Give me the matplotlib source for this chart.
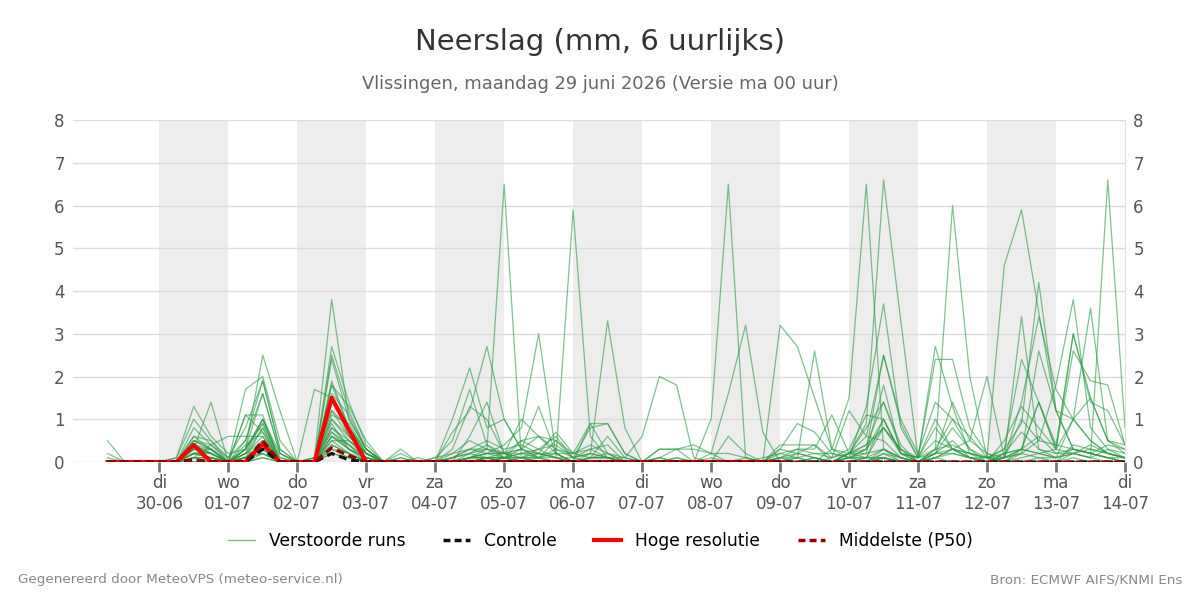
import matplotlib
matplotlib.use("Agg")
import matplotlib.pyplot as plt
from matplotlib.lines import Line2D
import pandas as pd

# 6-hourly steps, first value 29-06 06:00, last 14-07 00:00 (60 steps)
times = pd.date_range("2026-06-29 06:00", periods=60, freq="6h")

# perturbed members (mm per 6 h)
members = [
    [0.5,0,0,0,0.1,1.3,0.6,0.2,0.3,2.5, 1.2,0,0.1,1.2,0.6,0.2,0,0.1,0,0, 0.1,0.3,0.3,6.5,0.1,0.2,0.1,0,0.1,0.2,
     0,0,0,0.1,0,0,0.6,0.2,0,0.1, 0.2,0.1,0,0.2,0.8,1.4,0.3,0,0.2,0.3, 0.1,0.1,4.6,5.9,3.5,1.2,1.0,0.5,0.2,0.1],
    [0.2,0,0,0,0,0.5,0.3,0,0.5,1.6, 0.2,0,0.1,3.8,1.0,0.3,0,0,0,0.1, 0.5,1.7,0.4,0.1,0.5,0.3,0.1,0,0.9,0.9,
     0.2,0,0.1,0.3,0.4,0.2,0,0.1,0,0.3, 0.9,0.7,0.2,0.1,1.3,3.7,0.8,0.1,0.3,1.0, 0.6,0.1,0.3,2.4,1.4,0.4,3.0,1.5,0.5,0.3],
    [0,0,0,0,0,0.8,0.4,0,0.3,1.0, 0,0,0,2.7,1.4,0.4,0,0.3,0,0, 1.0,2.2,0.8,1.0,0.3,0.6,0.2,0,0.2,0.1,
     0.1,0,0,0,0,0,0,0,0,0.4, 0.4,0.4,0,0.2,0.6,2.5,1.0,0.2,1.4,1.0, 0.3,0,0.5,1.3,0.8,0.3,2.6,1.9,1.8,0.4],
    [0,0,0,0,0,0.6,0.5,0.1,0.8,1.9, 0.3,0,0,2.5,1.2,0.3,0,0,0,0, 0.3,1.3,1.0,0.2,0.2,0.3,0.6,0.1,0.2,0.1,
     0,0,0,0,0,0,0,0,0.1,0.2, 0.3,0.2,0.1,0.2,0.9,6.6,3.3,0.1,0.5,0.3, 0.2,0.1,0,0.3,1.4,0.3,1.0,3.6,0.5,0.4],
    [0,0,0,0,0,0.3,0.2,0,0.2,0.8, 0,0,0,1.9,0.8,0.2,0,0,0.1,0, 0,0.6,1.4,0.2,0,0.2,0.1,0.1,0,0,
     0,0,0,0,0,0.1,0,0,0,0.2, 0.1,0,0.3,1.5,6.5,0.3,0.1,0,0.2,0.2, 0.1,0,0.2,0.3,0.6,0.2,0.2,0.3,0.2,0.1],
    [0,0,0,0,0,0.4,0.3,0,1.7,2.0, 0.5,0,1.7,1.5,0.6,0.2,0,0,0,0, 0.2,0.5,0.3,0.1,0.3,0.2,0.1,5.9,0.6,0.1,
     0,0,0.3,0.3,0,0,0,0,0,0, 0,0.1,0,0.2,0.3,0.8,0.2,0.1,2.7,1.3, 0.2,0,0.2,0.7,0.3,0.1,0.3,0.2,0.1,0],
    [0,0,0,0,0.1,1.0,0.5,0,0.3,1.0, 0.2,0,0,1.8,1.3,0.5,0,0,0,0, 0.1,0.3,0.2,0.4,0.8,3.0,0.2,0,0.1,0.1,
     0,0,0,0,0,1.0,6.5,0.1,0,0, 0,0,0,0.1,0.2,1.8,0.2,0,0.1,0.2, 0.1,0,0.1,0.3,0.2,0.1,1.0,1.5,0.5,0.2],
    [0,0,0,0,0,0.5,0.4,0.1,0.5,1.9, 0.3,0,0,1.2,0.8,0.3,0,0.2,0,0, 0.7,1.2,2.7,1.0,0.3,0.1,0.3,0.1,0.2,3.3,
     0.8,0,0,0,0,0,0,0,0,0, 0,0,0.1,0.3,1.1,1.0,0.2,0.1,1.0,0.3, 0.1,0,0.1,0.2,0.5,0.4,0.3,0.2,0.4,0.3],
    [0,0,0,0,0,0.3,0.3,0,0.2,0.6, 0,0,0,1.0,0.5,0.2,0,0,0,0.1, 0.2,0.3,0.5,0.3,0.4,0.2,0.2,0.2,0.4,0.2,
     0.1,0.6,2.0,1.8,0.1,0,0,0,0,0, 0.2,0.1,0,0.2,0.4,0.8,0.3,0.1,2.4,2.4, 0.8,0.2,0,0.2,0.1,0,0.4,0.3,0.2,0.1],
    [0,0,0,0,0,0.2,0.1,0,0.1,0.5, 0,0,0,0.8,0.4,0.1,0,0,0,0, 0,0.1,0.2,0.2,0.5,0.6,0.3,0.2,0.9,0.2,
     0,0,0.1,0,0,0.2,1.6,3.2,0.7,0, 0.1,0.2,0.2,0.1,0.3,1.0,0.2,0,0.3,6.0, 2.0,0.1,0,0.1,0.2,0.3,0.2,0.4,0.2,0.1],
    [0,0,0,0,0,0.1,0,0,0.1,0.4, 0,0,0.1,0.7,0.3,0.1,0,0,0,0, 0.1,0.2,0.3,0.2,0.3,0.1,0.5,0.1,0.3,0.1,
     0,0,0.3,0.3,0.3,0.2,0.2,0.1,0,3.2, 2.7,1.5,0.3,0.2,0.1,0.8,0.3,0,0.2,1.4, 0.5,0.2,0.1,0.2,2.6,1.2,0.3,0.2,0.1,0],
    [0,0,0,0,0,0.2,0.2,0,0.2,0.3, 0,0,0,0.6,0.3,0,0,0,0,0, 0,0.1,0.1,0.1,0.1,0.3,0.4,0.1,0.8,0.9,
     0.2,0,0,0,0,0,0,0,0,0.1, 0.1,2.6,0.3,0.1,0.3,2.5,0.9,0.1,0.8,0.3, 0.1,0,0.1,1.0,0.5,1.8,3.8,0.8,0.3,0.2],
    [0,0,0,0,0,0.2,0.3,0,0.3,0.9, 0,0,0,0.5,0.5,0.2,0,0,0,0, 0.1,0.2,0.4,0.2,0.3,1.3,0.2,0,0,0,
     0,0,0.1,0,0,0,0,0,0,0.1, 0.3,0.3,1.1,0.2,0.4,1.4,0.4,0,0.1,0.3, 0.2,0.1,0.3,0.9,4.2,1.2,0.3,0.2,0.1,0.1],
    [0,0,0,0,0,0.1,0.1,0,0.1,0.2, 0,0,0,0.4,0.2,0,0,0,0,0, 0,0.1,0.2,0.2,1.0,0.6,0.5,0.2,0.3,0.4,
     0,0,0,0,0,0,0,0,0,0.3, 0.2,0.4,0.1,1.2,0.6,0.5,0.1,0,0.2,0.5, 0.1,0,0.1,3.4,0.3,0.2,0.3,0.2,0.1,0],
    [0,0,0,0,0,0,0,0,0.1,0.3, 0,0,0,0.3,0.1,0,0,0,0,0, 0,0,0.1,0.1,0.2,0.2,0.7,0.2,0.1,0.6,
     0.1,0,0,0.1,0,0,0,0,0,0, 0.1,0,0,0.1,0.1,1.0,0.2,0.1,0.2,0.8, 0.3,0.1,0.1,1.4,3.4,1.7,1.0,0.5,0.2,0.1],
    [0,0,0,0,0,0,0,0,0,0.2, 0,0,0,0.3,0.2,0,0,0,0,0, 0,0,0,0.1,0.1,0.1,0.2,0,0.1,0.1,
     0,0,0,0,0,0,0,0,0,0.1, 0,0.1,0,0.2,0.2,0.3,0.1,0,0.1,0.3, 0.5,2.0,0.1,0.3,0.2,0.1,0.2,0.1,6.6,0.8],
    [0,0,0,0,0,0.3,1.4,0,0,0.1, 0,0,0,0.2,0.1,0,0,0,0,0, 0,0,0.1,0.2,0.1,0.1,0.1,0,0.1,0.1,
     0,0,0,0,0,0,0,0,0,0, 0,0,0,0.1,0.1,0.3,0.1,0,0.3,0.4, 0.2,0.1,0.2,0.3,1.4,0.3,3.0,1.4,1.2,0.4],
    [0,0,0,0,0,0.6,0.3,0,0.3,1.6, 0.2,0,0,1.8,0.8,0.2,0,0,0,0, 0,0.2,0.1,0.1,0.2,0.1,0,0,0,0,
     0,0,0,0,0,0,0,0,0,0, 0,0,0,0,0.1,0.1,0,0,0,0, 0,0,0,0,0.1,0.1,0.2,0.1,0,0],
    [0,0,0,0,0,0.4,0.2,0,0.2,1.0, 0.1,0,0,2.4,1.0,0.3,0,0.1,0,0, 0,0.1,0.3,0.2,0.1,0,0,0,0,0,
     0,0,0,0,0,0,0,0,0,0, 0,0,0,0.1,0,0.2,0.1,0,0.1,0, 0,0,0,0,0,0,0.2,0.1,0.3,0.1],
    [0,0,0,0,0,0.3,0.2,0,0.1,0.8, 0,0,0,1.0,0.6,0.2,0,0,0,0, 0,0.1,0.2,0.1,0,0.1,0,0,0,0,
     0,0,0,0,0,0,0,0,0,0, 0,0,0,0,0.1,0.1,0,0,0,0, 0,0,0,0,0,0,0,0,0,0],
    [0,0,0,0,0,0.2,0.1,0,1.1,1.1, 0,0,0,0.8,0.5,0.1,0,0,0,0, 0,0,0.1,0,0.1,0,0,0,0,0,
     0,0,0,0,0,0,0,0,0,0, 0,0,0,0,0,0.3,0,0,0,0, 0,0,0,0,0,0,0,0,0,0],
    [0,0,0,0,0,0.1,0.4,0.6,0.6,0.6, 0,0,0,0.7,0.4,0,0,0,0,0, 0,0,0,0.1,0,0,0,0,0,0,
     0,0,0,0,0,0,0,0,0,0, 0,0,0,0,0,0.1,0,0,0,0, 0,0,0,0,0,0,0,0,0,0],
    [0.1,0,0,0,0,0.5,0.3,0,0.2,0.5, 0,0,0,0.6,0.3,0.1,0,0,0,0, 0,0.1,0.1,0,0,0,0,0,0,0,
     0,0,0,0,0,0,0,0,0,0, 0,0,0,0,0,0.1,0,0,0,0, 0,0,0,0,0,0,0,0,0,0],
    [0,0,0,0,0,0.2,0.1,0,0.1,0.3, 0,0,0,0.5,0.2,0,0,0,0,0, 0,0,0.1,0,0,0,0,0,0,0,
     0,0,0,0,0,0,0,0,0,0, 0,0,0,0,0,0,0,0,0,0, 0,0,0,0,0,0,0.1,0,0,0],
    [0,0,0,0,0,0.1,0.1,0,0.1,0.2, 0,0,0,0.4,0.2,0,0,0,0,0, 0,0,0,0,0,0,0,0,0,0,
     0,0,0,0,0,0,0,0,0,0, 0,0,0,0,0,0,0,0,0,0, 0,0,0,0,0,0,0,0,0,0],
    [0,0,0,0,0,0.2,0.1,0,0.3,0.9, 0.1,0,0,1.1,0.9,0.2,0,0,0,0, 0,0.1,0.1,0,0,0,0,0,0,0,
     0,0,0,0,0,0,0,0,0,0, 0,0,0,0,0,0.1,0,0,0,0, 0,0,0,0,0,0,0,0,0,0],
    [0,0,0,0,0,0.1,0.1,0,0.1,0.4, 0,0,0,0.9,0.3,0.1,0,0,0,0, 0,0,0,0.1,0,0,0,0,0,0,
     0,0,0,0,0,0,0,0,0,0, 0,0,0,0,0,0,0,0,0,0, 0,0,0,0,0,0,0,0,0,0],
    [0,0,0,0,0,0,0,0,0,0.1, 0,0,0,0.2,0.1,0,0,0,0,0, 0,0,0,0,0,0,0,0,0,0,
     0,0,0,0,0,0,0,0,0,0, 0,0,0,0,0,0,0,0,0,0, 0,0,0,0,0,0,0,0,0,0],
    [0,0,0,0,0,0.4,0.2,0,0.4,0.7, 0,0,0,1.6,1.1,0.3,0,0,0,0, 0,0,0.1,0,0,0,0,0,0,0,
     0,0,0,0,0,0,0,0,0,0, 0,0,0,0,0,0.2,0,0,0,0, 0,0,0,0,0,0,0,0,0,0],
    [0,0,0,0,0,0.3,0.2,0,1.1,0.7, 0,0,0,0.6,0.4,0.1,0,0,0,0, 0,0,0,0,0,0,0,0,0,0,
     0,0,0,0,0,0,0,0,0,0, 0,0,0,0,0,0,0,0,0,0, 0,0,0,0,0,0,0,0,0,0],
]

control = [0,0,0,0,0,0.05,0,0,0,0.3, 0,0,0,0.2,0.05,0,0,0,0,0, 0,0,0,0,0,0,0,0,0,0,
           0,0,0,0,0,0,0,0,0,0, 0,0,0,0,0,0,0,0,0,0, 0,0,0,0,0,0,0,0,0,0]
hres = [0,0,0,0,0,0.4,0,0,0,0.42, 0,0,0,1.5,0.75,0,0,0,0,0, 0,0,0,0,0,0,0,0,0,0,
        0,0,0,0,0,0,0,0,0,0]
median = [0,0,0,0,0,0.05,0,0,0,0.5, 0,0,0,0.33,0.15,0,0,0,0,0, 0,0,0,0,0,0,0,0,0,0,
          0,0,0,0,0,0,0,0,0,0, 0,0,0,0,0,0,0,0,0,0, 0,0,0,0,0,0,0,0,0,0]

day_names = ["di", "wo", "do", "vr", "za", "zo", "ma", "di", "wo", "do", "vr", "za", "zo", "ma", "di"]
days = pd.date_range("2026-06-30", "2026-07-14", freq="D")

fig = plt.figure(figsize=(12, 6), dpi=100)
ax = fig.add_axes([73 / 1200, 1 - 462 / 600, (1125 - 73) / 1200, 342 / 600])

# alternating day shading
for k in range(0, len(days) - 1, 2):
    ax.axvspan(days[k], days[k + 1], color="#ededed", lw=0, zorder=0)

for run in members:
    ax.plot(times, run, color="#2b9a44", alpha=0.6, lw=0.9, zorder=2)
ax.plot(times[:len(hres)], hres, color="#ff0000", lw=3, zorder=4)
ax.plot(times, control, color="#111111", lw=2.3, ls=(0, (2.5, 1.5)), zorder=5)
ax.plot(times, median, color="#990000", lw=2.3, ls=(0, (2.5, 1.5)), zorder=6)

ax.set_xlim(pd.Timestamp("2026-06-28 18:00"), pd.Timestamp("2026-07-14 00:00"))
ax.set_ylim(0, 8)
ax.set_yticks(range(0, 9))
ax.grid(axis="y", color="#dddddd", lw=1, zorder=1)
ax.set_axisbelow(True)
ax.set_xticks(days)
ax.set_xticklabels([f"{n}\n{d:%d-%m}" for n, d in zip(day_names, days)])
ax.tick_params(axis="x", length=7, width=2, color="#777777", labelsize=12,
               labelcolor="#555555", pad=2)
ax.tick_params(axis="y", length=0, labelsize=12, labelcolor="#555555", pad=6)
for s in ["top", "left", "bottom"]:
    ax.spines[s].set_visible(False)
ax.spines["right"].set_color("#e0e0e0")

ax2 = ax.twinx()
ax2.set_ylim(0, 8)
ax2.set_yticks(range(0, 9))
ax2.tick_params(axis="y", length=0, labelsize=12, labelcolor="#555555", pad=6)
for s in ax2.spines.values():
    s.set_visible(False)

fig.text(0.5, 1 - 42 / 600, "Neerslag (mm, 6 uurlijks)", ha="center", va="center",
         fontsize=21, color="#333333")
fig.text(0.5, 1 - 84 / 600, "Vlissingen, maandag 29 juni 2026 (Versie ma 00 uur)",
         ha="center", va="center", fontsize=12.9, color="#666666")

handles = [
    Line2D([], [], color="#7cc68a", lw=1),
    Line2D([], [], color="#111111", lw=2.5, ls=(0, (2, 1.2))),
    Line2D([], [], color="#ff0000", lw=3),
    Line2D([], [], color="#990000", lw=2.5, ls=(0, (2, 1.2))),
]
fig.legend(handles, ["Verstoorde runs", "Controle", "Hoge resolutie", "Middelste (P50)"],
           loc="center", bbox_to_anchor=(0.5, 1 - 541 / 600), ncol=4, frameon=False,
           fontsize=12.3, handlelength=1.6, columnspacing=2.2, handletextpad=0.8)

fig.text(18 / 1200, 1 - 580 / 600, "Gegenereerd door MeteoVPS (meteo-service.nl)",
         ha="left", va="center", fontsize=9.7, color="#888888")
fig.text(1182 / 1200, 1 - 580 / 600, "Bron: ECMWF AIFS/KNMI Ens",
         ha="right", va="center", fontsize=9.7, color="#888888")

fig.savefig("out.png", dpi=100)
